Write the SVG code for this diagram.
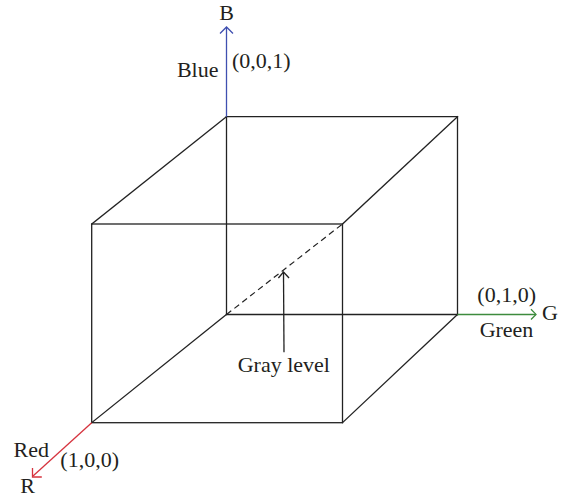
<svg xmlns="http://www.w3.org/2000/svg" width="564" height="500" viewBox="0 0 564 500">
<style>
.edge{stroke:#222;stroke-width:1.3;fill:none;stroke-linecap:square}
.dash{stroke:#222;stroke-width:1.2;fill:none;stroke-dasharray:6 4}
.lbl{font-family:"Liberation Serif","Times New Roman",serif;font-size:22px;fill:#231f20;text-anchor:middle}
</style>
<rect width="564" height="500" fill="#fff"/>
<g id="cube">
<polyline class="edge" points="226.5,116.7 457.5,116.7 457.5,314.5"/>
<line class="edge" x1="226.5" y1="116.7" x2="226.5" y2="314.5"/>
<line class="edge" x1="226.5" y1="314.5" x2="457.5" y2="314.5"/>
<rect class="edge" x="91.7" y="224" width="250.8" height="198.7"/>
<line class="edge" x1="91.7" y1="224" x2="226.5" y2="116.7"/>
<line class="edge" x1="342.5" y1="224" x2="457.5" y2="116.7"/>
<line class="edge" x1="342.5" y1="422.7" x2="457.5" y2="314.5"/>
<line class="edge" x1="91.7" y1="422.7" x2="226.5" y2="314.5"/>
</g>
<g id="connectors">
<line x1="226.5" y1="116.7" x2="226.5" y2="27.5" stroke="#3f4fb0" stroke-width="1.3"/>
<polyline points="220,33.5 226.5,27 233,33.5" fill="none" stroke="#3f4fb0" stroke-width="1.3"/>
<line x1="457.5" y1="314.5" x2="535.5" y2="314.5" stroke="#3d8b3d" stroke-width="1.3"/>
<polyline points="531,309.3 536,314.4 531,319.5" fill="none" stroke="#3d8b3d" stroke-width="1.3"/>
<line x1="91.7" y1="422.7" x2="33" y2="476" stroke="#d6333e" stroke-width="1.3"/>
<polyline points="32.5,468 32.5,477 41.8,477" fill="none" stroke="#d6333e" stroke-width="1.3"/>
<line class="dash" x1="226.5" y1="314.5" x2="342.5" y2="224"/>
<line class="edge" x1="284" y1="351.5" x2="283.5" y2="273"/>
<polyline class="edge" points="278.8,277.5 283.5,272 288.6,277.5" stroke-linecap="butt"/>
</g>
<g id="labels">
<text class="lbl" x="226.5" y="19.5">B</text>
<text class="lbl" x="197.7" y="77.3">Blue</text>
<text class="lbl" x="261.3" y="68.3">(0,0,1)</text>
<text class="lbl" x="506.7" y="301.7">(0,1,0)</text>
<text class="lbl" x="550" y="320">G</text>
<text class="lbl" x="506.5" y="337.3">Green</text>
<text class="lbl" x="283.8" y="372.3">Gray level</text>
<text class="lbl" x="31.2" y="457.3">Red</text>
<text class="lbl" x="89.7" y="466.7">(1,0,0)</text>
<text class="lbl" x="27.7" y="493.3">R</text>
</g>
</svg>
